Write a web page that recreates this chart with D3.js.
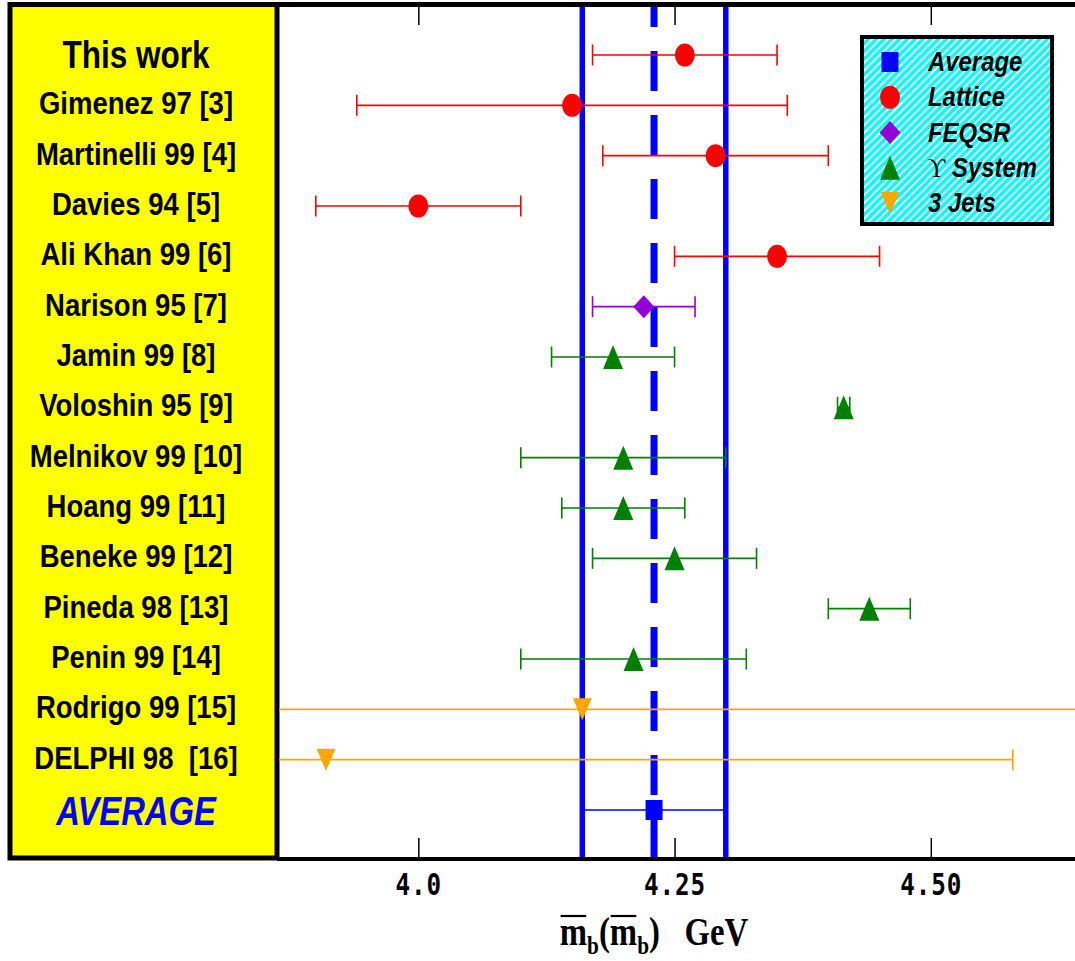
<!DOCTYPE html>
<html>
<head>
<meta charset="utf-8">
<script src="https://cdn.jsdelivr.net/npm/d3@7"></script>
<style>
  body { margin: 0; background: #fff; }
  svg { display: block; }
  text { white-space: pre; }
</style>
</head>
<body>
<svg width="1075" height="961"></svg>
<script>
// Measurement labels (top to bottom)
const labels = ["This work", "Gimenez 97 [3]", "Martinelli 99 [4]", "Davies 94 [5]", "Ali Khan 99 [6]",
  "Narison 95 [7]", "Jamin 99 [8]", "Voloshin 95 [9]", "Melnikov 99 [10]", "Hoang 99 [11]",
  "Beneke 99 [12]", "Pineda 98 [13]", "Penin 99 [14]", "Rodrigo 99 [15]", "DELPHI 98  [16]", "AVERAGE"];

// Method of each measurement
const methods = ["Lattice", "Lattice", "Lattice", "Lattice", "Lattice",
  "FEQSR", "Upsilon", "Upsilon", "Upsilon", "Upsilon",
  "Upsilon", "Upsilon", "Upsilon", "Jets", "Jets", "Average"];

// Central values and error bar ends (GeV)
const central = [4.26, 4.15, 4.29, 4.00, 4.35, 4.22, 4.19, 4.415, 4.20, 4.20, 4.25, 4.44, 4.21, 4.16, 3.91, 4.23];
const lower   = [4.17, 3.94, 4.18, 3.90, 4.25, 4.17, 4.13, 4.409, 4.10, 4.14, 4.17, 4.40, 4.10, 3.66, 3.24, 4.16];
const upper   = [4.35, 4.36, 4.40, 4.10, 4.45, 4.27, 4.25, 4.421, 4.30, 4.26, 4.33, 4.48, 4.32, 4.66, 4.58, 4.30];

// Average band
const average = 4.23;
const bandLow = 4.16;
const bandHigh = 4.30;

// Axis ticks
const tickValues = [4.0, 4.25, 4.5];
const tickLabels = ["4.0", "4.25", "4.50"];

// Legend
const legendKeys = ["Average", "Lattice", "FEQSR", "Upsilon", "Jets"];
const legendNames = ["Average", "Lattice", "FEQSR", "\u03D2 System", "3 Jets"];

const colors = { Average: "#0000ff", Lattice: "#ff0000", FEQSR: "#9400d3", Upsilon: "#008000", Jets: "#ffa500" };
const shapes = { Average: "square", Lattice: "circle", FEQSR: "diamond", Upsilon: "up", Jets: "down" };

const data = labels.map((l, i) => ({ label: l, method: methods[i], c: central[i], lo: lower[i], hi: upper[i] }));

// frame geometry
const topY = 7, bottomY = 858, panelLeft = 10, panelRight = 277, plotLeft = 279, plotRight = 1095;

const svg = d3.select("svg");

// x scale (GeV)
const x = d3.scaleLinear().domain([4.0, 4.5]).range([418.3, 930.8]);

// rows
const y = d3.scalePoint().domain(labels).range([55, 810]);

// marker path
function marker(type, w, h) {
  const a = w / 2, b = h / 2;
  if (type === "square") return `M${-a},${-b}H${a}V${b}H${-a}Z`;
  if (type === "diamond") return `M0,${-b}L${a},0L0,${b}L${-a},0Z`;
  if (type === "up") return `M0,${-b}L${a},${b}L${-a},${b}Z`;
  if (type === "down") return `M${-a},${-b}L${a},${-b}L0,${b}Z`;
  return `M${-a},0A${a},${b} 0 1,0 ${a},0A${a},${b} 0 1,0 ${-a},0Z`;
}
const markerSize = { square: [17, 20], circle: [20, 23], diamond: [21, 23], up: [20, 24], down: [19, 22] };

// defs: clip + hatch
const defs = svg.append("defs");
defs.append("clipPath").attr("id", "plotClip")
  .append("rect").attr("x", plotLeft).attr("y", topY).attr("width", plotRight - plotLeft).attr("height", bottomY - topY);
const hatch = defs.append("pattern").attr("id", "hatch").attr("patternUnits", "userSpaceOnUse")
  .attr("width", 5.5).attr("height", 5.5).attr("patternTransform", "rotate(45)");
hatch.append("rect").attr("width", 5.5).attr("height", 5.5).attr("fill", "#00ffff");
hatch.append("rect").attr("width", 2).attr("height", 5.5).attr("fill", "#ffffff");

// Yellow label panel
svg.append("rect")
  .attr("x", panelLeft).attr("y", topY - 2.5)
  .attr("width", panelRight - panelLeft).attr("height", bottomY - topY + 2.5)
  .attr("fill", "#ffff00").attr("stroke", "#000").attr("stroke-width", 5);

// Labels
svg.append("g").selectAll("text")
  .data(data)
  .enter()
  .append("text")
  .attr("transform", (d, i) => {
    if (i === 0) return `translate(136,${y(d.label) + 13}) scale(0.83,1)`;
    if (d.label === "AVERAGE") return `translate(136,${y(d.label) + 15}) scale(0.8,1)`;
    return `translate(136,${y(d.label) + 9}) scale(0.86,1)`;
  })
  .attr("text-anchor", "middle")
  .attr("font-family", "Liberation Sans, Arial, sans-serif")
  .attr("font-weight", "bold")
  .attr("font-style", d => d.label === "AVERAGE" ? "italic" : "normal")
  .attr("font-size", (d, i) => i === 0 ? 38 : (d.label === "AVERAGE" ? 41 : 32))
  .attr("fill", d => d.label === "AVERAGE" ? "#0000ff" : "#000")
  .text(d => d.label);

// Average band lines
const plot = svg.append("g").attr("clip-path", "url(#plotClip)");
[bandLow, bandHigh].forEach(v => {
  plot.append("line")
    .attr("x1", x(v)).attr("x2", x(v)).attr("y1", topY).attr("y2", bottomY)
    .attr("stroke", "#0000ff").attr("stroke-width", 5.5);
});
plot.append("line")
  .attr("x1", x(average)).attr("x2", x(average)).attr("y1", topY).attr("y2", bottomY)
  .attr("stroke", "#0000ff").attr("stroke-width", 7)
  .attr("stroke-dasharray", "40,24").attr("stroke-dashoffset", 20);

// Error bars
const bars = plot.append("g").selectAll("g")
  .data(data)
  .enter()
  .append("g")
  .attr("stroke", d => colors[d.method])
  .attr("stroke-width", 1.6);
bars.append("line")
  .attr("x1", d => x(d.lo)).attr("x2", d => x(d.hi))
  .attr("y1", d => y(d.label)).attr("y2", d => y(d.label));
bars.append("line")
  .attr("x1", d => x(d.lo)).attr("x2", d => x(d.lo))
  .attr("y1", d => y(d.label) - 10.5).attr("y2", d => y(d.label) + 10.5);
bars.append("line")
  .attr("x1", d => x(d.hi)).attr("x2", d => x(d.hi))
  .attr("y1", d => y(d.label) - 10.5).attr("y2", d => y(d.label) + 10.5);

// Markers
plot.append("g").selectAll("path")
  .data(data)
  .enter()
  .append("path")
  .attr("transform", d => `translate(${x(d.c)},${y(d.label)})`)
  .attr("d", d => { const s = shapes[d.method]; return marker(s, markerSize[s][0], markerSize[s][1]); })
  .attr("fill", d => colors[d.method]);

// Bottom axis
const xAxis = d3.axisBottom(x).tickValues(tickValues).tickSize(-20).tickPadding(10)
  .tickFormat((d, i) => tickLabels[i]);
const gx = svg.append("g").attr("transform", `translate(0,${bottomY})`).call(xAxis);
gx.select(".domain").remove();
gx.selectAll(".tick line").attr("stroke", "#000").attr("stroke-width", 1.5);
gx.selectAll(".tick text")
  .attr("y", 0).attr("dy", null)
  .attr("transform", "translate(0,37) scale(0.9,1.1)")
  .attr("font-family", "DejaVu Sans Mono, monospace")
  .attr("font-weight", "bold")
  .attr("font-size", 27)
  .attr("letter-spacing", 1)
  .attr("fill", "#000");

// Top axis
const xTop = d3.axisTop(x).tickValues(tickValues).tickSize(-18).tickFormat("");
const gt = svg.append("g").attr("transform", `translate(0,${topY})`).call(xTop);
gt.select(".domain").remove();
gt.selectAll(".tick line").attr("stroke", "#000").attr("stroke-width", 1.5);

// Frame lines of plot
svg.append("line").attr("x1", panelLeft).attr("x2", plotRight).attr("y1", topY - 2.5).attr("y2", topY - 2.5)
  .attr("stroke", "#000").attr("stroke-width", 5);
svg.append("line").attr("x1", panelRight).attr("x2", plotRight).attr("y1", bottomY + 1).attr("y2", bottomY + 1)
  .attr("stroke", "#000").attr("stroke-width", 4);

// Legend
const legend = svg.append("g");
legend.append("rect")
  .attr("x", 862).attr("y", 37).attr("width", 190).attr("height", 187)
  .attr("fill", "url(#hatch)").attr("stroke", "#000").attr("stroke-width", 4);
const ly = d3.scalePoint().domain(legendKeys).range([62, 203]);
legend.selectAll("path")
  .data(legendKeys)
  .enter()
  .append("path")
  .attr("transform", k => `translate(890,${ly(k)})`)
  .attr("d", k => { const s = shapes[k]; return marker(s, markerSize[s][0], markerSize[s][1]); })
  .attr("fill", k => colors[k]);
const lt = legend.selectAll("text")
  .data(legendKeys)
  .enter()
  .append("text")
  .attr("transform", k => `translate(928,${ly(k) + 9}) scale(0.92,1.08)`)
  .attr("font-family", "Liberation Sans, Arial, sans-serif")
  .attr("font-weight", "bold")
  .attr("font-style", "italic")
  .attr("font-size", 26)
  .attr("fill", "#000");
lt.each(function(k, i) {
  const t = d3.select(this);
  if (k === "Upsilon") {
    t.append("tspan").attr("font-family", "Liberation Serif, serif").attr("font-style", "normal")
      .attr("font-weight", "normal").text("\u03D2");
    t.append("tspan").text(" System");
  } else {
    t.text(legendNames[i]);
  }
});

// X axis title
const titleG = svg.append("g").attr("transform", "translate(654,945) scale(0.82,1)");
const title = titleG.append("text")
  .attr("text-anchor", "middle")
  .attr("font-family", "Liberation Serif, Times New Roman, serif")
  .attr("font-weight", "bold")
  .attr("font-size", 40)
  .attr("fill", "#000");
title.append("tspan").text("m");
title.append("tspan").attr("font-size", 26).attr("dy", 9).text("b");
title.append("tspan").attr("dy", -9).text("(");
title.append("tspan").text("m");
title.append("tspan").attr("font-size", 26).attr("dy", 9).text("b");
title.append("tspan").attr("dy", -9).text(")   GeV");

// overlines above both m
[0, 3].forEach(ci => {
  const box = title.node().getExtentOfChar(ci);
  titleG.append("line")
    .attr("x1", box.x + 1).attr("x2", box.x + box.width - 1)
    .attr("y1", -29).attr("y2", -29)
    .attr("stroke", "#000").attr("stroke-width", 2.2);
});
</script>
</body>
</html>
